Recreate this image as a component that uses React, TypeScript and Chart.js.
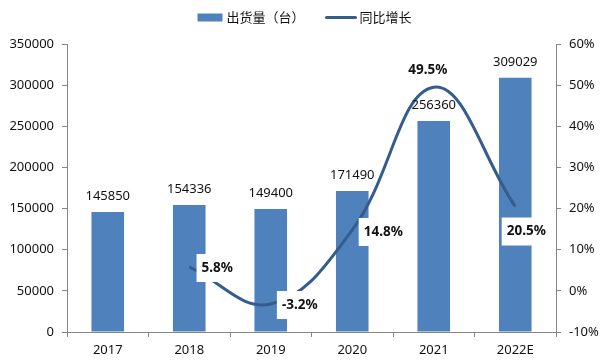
import { useEffect, useRef } from 'react';
import { Chart, registerables } from 'chart.js';

Chart.register(...registerables);

const categories = ['2017', '2018', '2019', '2020', '2021', '2022E'];
const shipments = [145850, 154336, 149400, 171490, 256360, 309029];
const growth: (number | null)[] = [null, 5.8, -3.2, 14.8, 49.5, 20.5];
const barLabel = '出货量（台）';
const lineLabel = '同比增长';
const leftMin = 0;
const leftMax = 350000;
const leftStep = 50000;
const rightMin = -10;
const rightMax = 60;
const rightStep = 10;

// style: label placement offsets (px) for growth labels
const growthLabelOffsets = [
  null,
  { dx: 28, dy: 1 },
  { dx: 29, dy: 1 },
  { dx: 31, dy: 2 },
  { dx: -6, dy: -17 },
  { dx: 11, dy: 25 },
];

const FONT = '"Noto Sans", "Noto Sans CJK SC", sans-serif';
const CJK = '"Noto Sans CJK SC", sans-serif';
const BAR_COLOR = '#4f81bd';
const LINE_COLOR = '#345d8e';
const AXIS_COLOR = '#868686';
const TEXT_COLOR = '#111';

const labelsPlugin = {
  id: 'customLabels',
  afterDatasetsDraw(chart: any) {
    const ctx = chart.ctx;
    ctx.save();
    ctx.textAlign = 'center';
    ctx.textBaseline = 'middle';
    ctx.font = `13px ${FONT}`;
    ctx.fillStyle = TEXT_COLOR;
    const barMeta = chart.getDatasetMeta(0);
    barMeta.data.forEach((el: any, i: number) => {
      ctx.fillText(String(shipments[i]), el.x, el.y - 15.5);
    });
    const lineMeta = chart.getDatasetMeta(1);
    ctx.font = `bold 13.5px ${FONT}`;
    lineMeta.data.forEach((el: any, i: number) => {
      const v = growth[i];
      const off = growthLabelOffsets[i];
      if (v == null || !off) return;
      const text = v.toFixed(1) + '%';
      const w = ctx.measureText(text).width;
      const cx = el.x + off.dx;
      const cy = el.y + off.dy;
      ctx.fillStyle = '#fff';
      ctx.fillRect(cx - w / 2 - 5, cy - 14, w + 10, 28);
      ctx.fillStyle = TEXT_COLOR;
      ctx.fillText(text, cx, cy);
    });
    ctx.restore();
  },
};

const legendPlugin = {
  id: 'customLegend',
  afterDraw(chart: any) {
    const ctx = chart.ctx;
    ctx.save();
    ctx.font = `13px ${CJK}`;
    ctx.textBaseline = 'middle';
    ctx.textAlign = 'left';
    const boxW = 25;
    const lineW = 29;
    const gap = 4;
    const itemGap = 22;
    const t1 = ctx.measureText(barLabel).width;
    const t2 = ctx.measureText(lineLabel).width;
    const total = boxW + gap + t1 + itemGap + lineW + gap + t2;
    let x = chart.width / 2 - total / 2;
    const y = 17.5;
    ctx.fillStyle = BAR_COLOR;
    ctx.fillRect(x, y - 4, boxW, 8);
    x += boxW + gap;
    ctx.fillStyle = TEXT_COLOR;
    ctx.fillText(barLabel, x, y);
    x += t1 + itemGap;
    ctx.strokeStyle = LINE_COLOR;
    ctx.lineWidth = 3;
    ctx.lineCap = 'round';
    ctx.beginPath();
    ctx.moveTo(x, y);
    ctx.lineTo(x + lineW, y);
    ctx.stroke();
    x += lineW + gap;
    ctx.fillText(lineLabel, x, y);
    ctx.restore();
  },
};

export default function App() {
  const ref = useRef<HTMLCanvasElement | null>(null);
  useEffect(() => {
    if (!ref.current) return;
    const chart = new Chart(ref.current, {
      type: 'bar',
      data: {
        labels: categories,
        datasets: [
          {
            type: 'bar',
            label: barLabel,
            data: shipments,
            backgroundColor: BAR_COLOR,
            borderWidth: 0,
            categoryPercentage: 1,
            barPercentage: 0.4,
            yAxisID: 'y',
            order: 1,
          },
          {
            type: 'line',
            label: lineLabel,
            data: growth,
            borderColor: LINE_COLOR,
            borderWidth: 3,
            pointRadius: 0,
            tension: 0.4,
            fill: false,
            yAxisID: 'y1',
            order: 0,
          } as any,
        ],
      },
      options: {
        responsive: false,
        animation: false,
        layout: { padding: { top: 44, left: 0, right: 0, bottom: 0 } },
        plugins: {
          legend: { display: false },
          tooltip: { enabled: false },
        },
        scales: {
          x: {
            offset: true,
            grid: {
              offset: true,
              drawOnChartArea: false,
              drawTicks: true,
              tickLength: 5,
              color: AXIS_COLOR,
            },
            border: { display: true, color: AXIS_COLOR },
            ticks: { color: TEXT_COLOR, font: { family: FONT, size: 13 }, padding: 5 },
            afterFit(scale: any) {
              scale.height = 32;
            },
          },
          y: {
            position: 'left',
            min: leftMin,
            max: leftMax,
            ticks: {
              stepSize: leftStep,
              color: TEXT_COLOR,
              font: { family: FONT, size: 13 },
              padding: 8,
              callback: (v: any) => String(v),
            },
            grid: {
              drawOnChartArea: false,
              drawTicks: true,
              tickLength: 5,
              color: AXIS_COLOR,
            },
            border: { display: true, color: AXIS_COLOR },
            afterFit(scale: any) {
              scale.width = 67;
            },
          },
          y1: {
            position: 'right',
            min: rightMin,
            max: rightMax,
            ticks: {
              stepSize: rightStep,
              color: TEXT_COLOR,
              font: { family: FONT, size: 13 },
              padding: 8,
              callback: (v: any) => v + '%',
            },
            grid: {
              drawOnChartArea: false,
              drawTicks: true,
              tickLength: 5,
              color: AXIS_COLOR,
            },
            border: { display: true, color: AXIS_COLOR },
            afterFit(scale: any) {
              scale.width = 53;
            },
          },
        },
      },
      plugins: [labelsPlugin, legendPlugin],
    });
    return () => chart.destroy();
  }, []);
  return (
    <div style={{ position: 'absolute', left: 0, top: 0, width: 609, height: 364, background: '#fff' }}>
      <canvas ref={ref} width={609} height={364} style={{ display: 'block' }} />
    </div>
  );
}
